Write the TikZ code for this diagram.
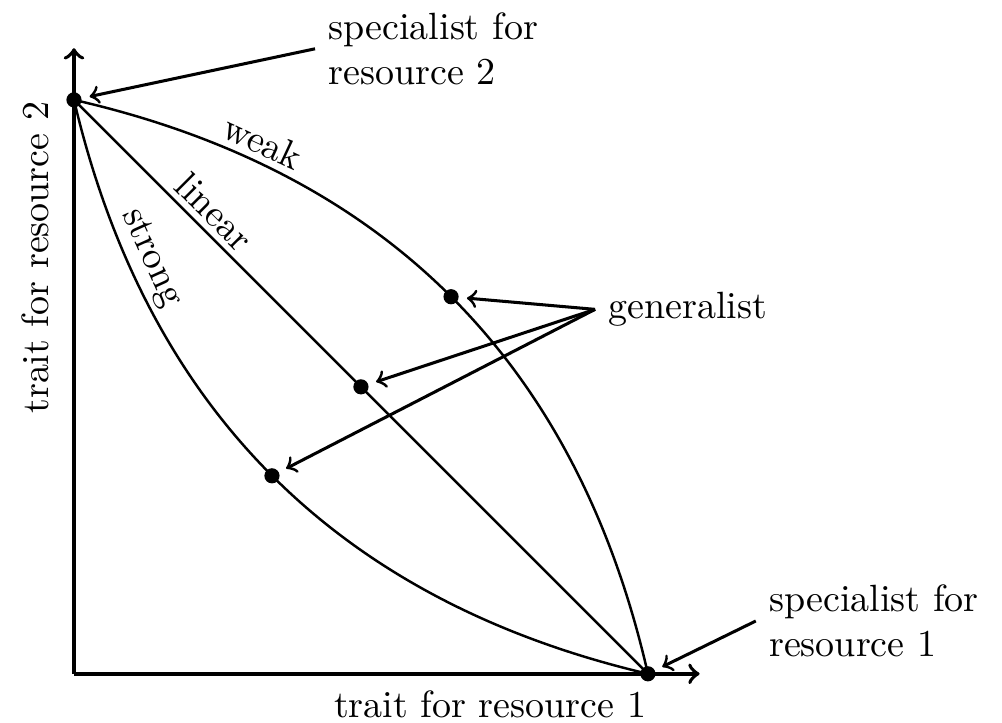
\documentclass[tikz,border=0pt]{standalone}
\usepackage{tikz}
\usetikzlibrary{positioning}

\begin{document}
\begin{tikzpicture}[
        x=0.531cm, y=0.531cm,
        axis/.style={line width=1pt, ->},
        tradeoff/.style={line width=0.65pt},
        pointer/.style={line width=0.8pt, ->, shorten >=2pt},
        traitdot/.style={circle, fill=black, inner sep=0pt, minimum size=4pt},
        curvetag/.style={sloped, above, inner sep=1.5pt},
    ]
    \useasboundingbox (-1.289,-0.852) rectangle (16.17,11.74);

    % axes
    \coordinate (origin) at (0,0);
    \coordinate (xend) at (10.9,0);
    \coordinate (yend) at (0,10.9);
    \draw[axis] (origin) -- (xend);
    \draw[axis] (origin) -- (yend);
    \node (xlabel) at (7.25,-0.54) {trait for resource 1};
    \node (ylabel) [rotate=90] at (-0.68,7.25) {trait for resource 2};

    % specialists
    \node (spec2) [traitdot] at (0,10) {};
    \node (spec1) [traitdot] at (10,0) {};

    % trade-off curves
    \draw[tradeoff] (spec2.center) .. controls (5.43,8.76) and (8.76,5.43) .. (spec1.center) node[curvetag, pos=0.21] {weak};
    \draw[tradeoff] (spec2.center) -- (spec1.center) node[curvetag, pos=0.22] {linear};
    \draw[tradeoff] (spec2.center) .. controls (1.27,4.6) and (4.6,1.27) .. (spec1.center) node[curvetag, pos=0.195] {strong};

    % generalists
    \node (genweak) [traitdot] at (6.57,6.57) {};
    \node (genlinear) [traitdot] at (5,5) {};
    \node (genstrong) [traitdot] at (3.45,3.45) {};

    \node (generalist) [anchor=west] at (9.08,6.35) {generalist};
    \path (generalist.west) edge[pointer] (genweak);
    \path (generalist.west) edge[pointer] (genlinear);
    \path (generalist.west) edge[pointer] (genstrong);

    \node (specialistTwo) [align=left, anchor=west] at (4.2,10.89) {specialist for\\resource 2};
    \path (specialistTwo.west) edge[pointer] (spec2);

    \node (specialistOne) [align=left, anchor=west] at (11.88,0.92) {specialist for\\resource 1};
    \path (specialistOne.west) edge[pointer] (spec1);

\end{tikzpicture}
\end{document}
